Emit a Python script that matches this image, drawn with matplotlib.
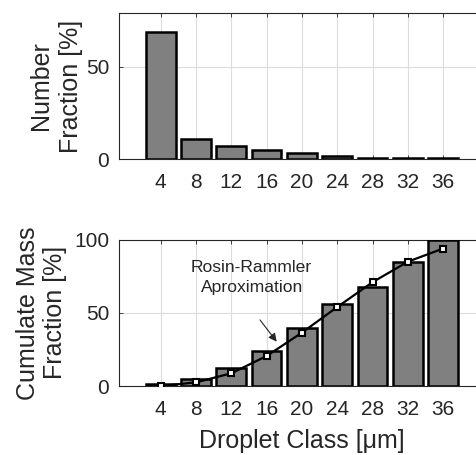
import matplotlib.pyplot as plt

plt.rcParams['font.family'] = ['Liberation Sans', 'DejaVu Sans']

# droplet classes [um]
classes = [4, 8, 12, 16, 20, 24, 28, 32, 36]
# number fraction [%]
number_frac = [69, 10.9, 7.0, 4.9, 3.3, 1.6, 0.6, 0.5, 0.5]
# cumulated mass fraction [%]
cum_mass = [1.5, 4.5, 12.5, 24, 40, 56, 68, 85, 100]
# Rosin-Rammler approximation
rr_fit = [0, 2.5, 8.7, 20.5, 36.5, 54, 71, 85, 94]

txt = '#262626'
bar_kw = dict(width=3.36, color='#808080', edgecolor='black', linewidth=1.8, zorder=3)

fig = plt.figure(figsize=(4.77, 4.55), dpi=100)
ax1 = fig.add_axes([0.2495, 0.6505, 0.767, 0.3209])
ax2 = fig.add_axes([0.2495, 0.1516, 0.767, 0.3215])

for ax in (ax1, ax2):
    ax.set_xlim(-0.72, 40.72)
    ax.set_xticks(classes)
    ax.grid(True, color='#dcdcdc', linewidth=0.8, zorder=0)
    ax.tick_params(direction='in', top=True, right=True, length=3,
                   labelsize=15, colors=txt, width=0.6)
    ax.tick_params(axis='x', pad=10)
    ax.tick_params(axis='y', pad=7)
    for s in ax.spines.values():
        s.set_color('#262626')
        s.set_linewidth(0.8)

# --- top: number fraction ---
ax1.bar(classes, number_frac, **bar_kw)
ax1.set_ylim(0, 79.3)
ax1.set_yticks([0, 50])
ax1.set_ylabel('Number\nFraction [%]', fontsize=18, color=txt, linespacing=1.35)
ax1.yaxis.set_label_coords(-0.098, 0.5)

# --- bottom: cumulate mass fraction ---
ax2.bar(classes, cum_mass, **bar_kw)
ax2.plot(classes, rr_fit, '-', color='black', linewidth=1.6, zorder=4)
ax2.plot(classes, rr_fit, 's', markersize=5, markerfacecolor='white',
         markeredgecolor='black', markeredgewidth=1.5, zorder=5)
ax2.set_ylim(0, 100)
ax2.set_yticks([0, 50, 100])
ax2.set_ylabel('Cumulate Mass\nFraction [%]', fontsize=18, color=txt, linespacing=1.15)
ax2.yaxis.set_label_coords(-0.142, 0.5)
ax2.set_xlabel('Droplet Class [\u03bcm]', fontsize=18, color=txt, labelpad=7)

ax2.text(14.3, 74, 'Rosin-Rammler\nAproximation', ha='center', va='center',
         fontsize=12.6, color=txt, linespacing=1.4, zorder=6)
ax2.annotate('', xy=(17.14, 30.3), xytext=(15.25, 45.2),
             arrowprops=dict(arrowstyle='-|>', color='#262626', linewidth=0.8,
                             mutation_scale=12, shrinkA=0, shrinkB=0),
             zorder=6)

fig.savefig('out.png', dpi=100)
